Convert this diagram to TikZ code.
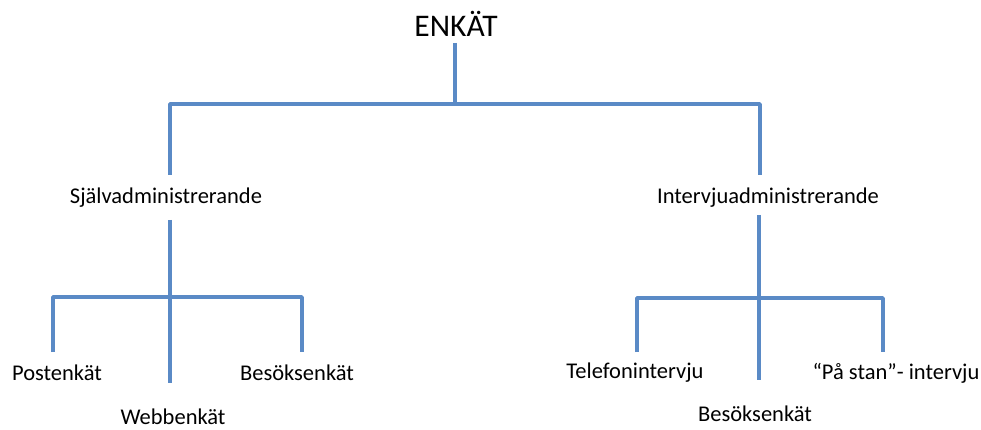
\documentclass[tikz,border=0pt]{standalone}
\usepackage{fontspec}
\setmainfont{Carlito}
\definecolor{branch}{HTML}{5A8AC6}
\begin{document}
\begin{tikzpicture}[x=1pt,y=-1pt,
  conn/.style={draw=branch,line width=3.6pt,line join=round},
  lbl/.style={inner sep=0pt,font=\fontsize{22.5}{26}\selectfont},
  title/.style={inner sep=0pt,font=\fontsize{31.5}{36}\selectfont}]
\useasboundingbox (0,0) rectangle (981,430);

% labels
\node[title] (enkat) at (456,24) {ENKÄT};
\node[lbl] (sjalv) at (166,198) {Självadministrerande};
\node[lbl] (intervju) at (768,198) {Intervjuadministrerande};
\node[lbl] (post) at (57,373) {Postenkät};
\node[lbl] (webb) at (173,417) {Webbenkät};
\node[lbl] (besokA) at (297,373) {Besöksenkät};
\node[lbl] (tele) at (635,373) {Telefonintervju};
\node[lbl] (besokB) at (755,414) {Besöksenkät};
\node[lbl] (stan) at (896,373) {“På stan”- intervju};

% junction points of the tree
\coordinate (topstem) at (455,43);
\coordinate (topbar) at (455,104);
\coordinate (barL) at (170,104);
\coordinate (barR) at (760,104);
\coordinate (endL) at (170,175);
\coordinate (endR) at (760,175);

\coordinate (stemL) at (170,220);
\coordinate (midL) at (170,297);
\coordinate (footL) at (170,383);
\coordinate (postTop) at (53,352);
\coordinate (postBar) at (53,297);
\coordinate (besTop) at (302,352);
\coordinate (besBar) at (302,297);

\coordinate (stemR) at (759,215);
\coordinate (midR) at (759,298);
\coordinate (footR) at (759,380);
\coordinate (teleTop) at (637,352);
\coordinate (teleBar) at (637,298);
\coordinate (stanTop) at (883,352);
\coordinate (stanBar) at (883,298);

% top level
\draw[conn] (topstem) -- (topbar);
\draw[conn] (endL) -- (barL) -- (barR) -- (endR);

% left branch
\draw[conn] (stemL) -- (footL);
\draw[conn] (postTop) -- (postBar) -- (besBar) -- (besTop);

% right branch
\draw[conn] (stemR) -- (footR);
\draw[conn] (teleTop) -- (teleBar) -- (stanBar) -- (stanTop);
\end{tikzpicture}
\end{document}
